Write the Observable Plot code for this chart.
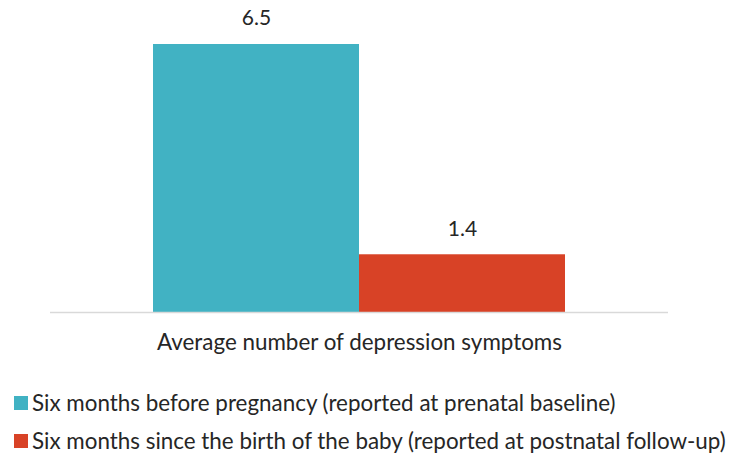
<!DOCTYPE html>
<html>
<head>
<meta charset="utf-8">
<script src="https://cdn.jsdelivr.net/npm/d3@7"></script>
<script src="https://cdn.jsdelivr.net/npm/@observablehq/plot@0.6"></script>
<style>
  html, body { margin: 0; padding: 0; background: #fff; }
  body { width: 730px; height: 458px; overflow: hidden; font-family: Lato, "Open Sans", sans-serif; }
  #legend { margin-top: 14px; padding-left: 14px; color: #262626; font-size: 22.4px; }
  .item { height: 38px; line-height: 38px; display: flex; align-items: center; white-space: nowrap; }
  .sw { width: 14px; height: 14px; margin-right: 4px; flex: none; }
</style>
</head>
<body>
<div id="chart"></div>
<div id="legend"></div>
<script>
const series = [
  "Six months before pregnancy (reported at prenatal baseline)",
  "Six months since the birth of the baby (reported at postnatal follow-up)"
];
const values = [6.5, 1.4];
const colors = ["#41B2C3", "#D84226"];
const categoryLabel = "Average number of depression symptoms";

const data = series.map((s, i) => ({series: s, value: values[i]}));

const plot = Plot.plot({
  width: 730,
  height: 370,
  marginLeft: 50,
  marginRight: 62,
  marginTop: 44,
  marginBottom: 58,
  style: {fontFamily: "Lato, 'Open Sans', sans-serif", background: "#fff"},
  x: {domain: series, paddingInner: 0, paddingOuter: 0.5, axis: null},
  y: {domain: [0, 6.5], axis: null},
  color: {domain: series, range: colors},
  marks: [
    Plot.barY(data, {x: "series", y: "value", fill: "series", inset: 0}),
    Plot.ruleY([0], {stroke: "#d9d9d9", strokeWidth: 1.5}),
    Plot.text(data, {x: "series", y: "value", text: d => d.value.toFixed(1), dy: -26, fontSize: 21, fill: "#262626"}),
    Plot.text([categoryLabel], {frameAnchor: "bottom", dy: 37, text: d => d, fontSize: 22.4, fill: "#262626"})
  ]
});
document.getElementById("chart").appendChild(plot);

const legend = d3.select("#legend");
series.forEach((s, i) => {
  const item = legend.append("div").attr("class", "item");
  item.append("div").attr("class", "sw").style("background", colors[i]);
  item.append("span").text(s);
});
</script>
</body>
</html>
